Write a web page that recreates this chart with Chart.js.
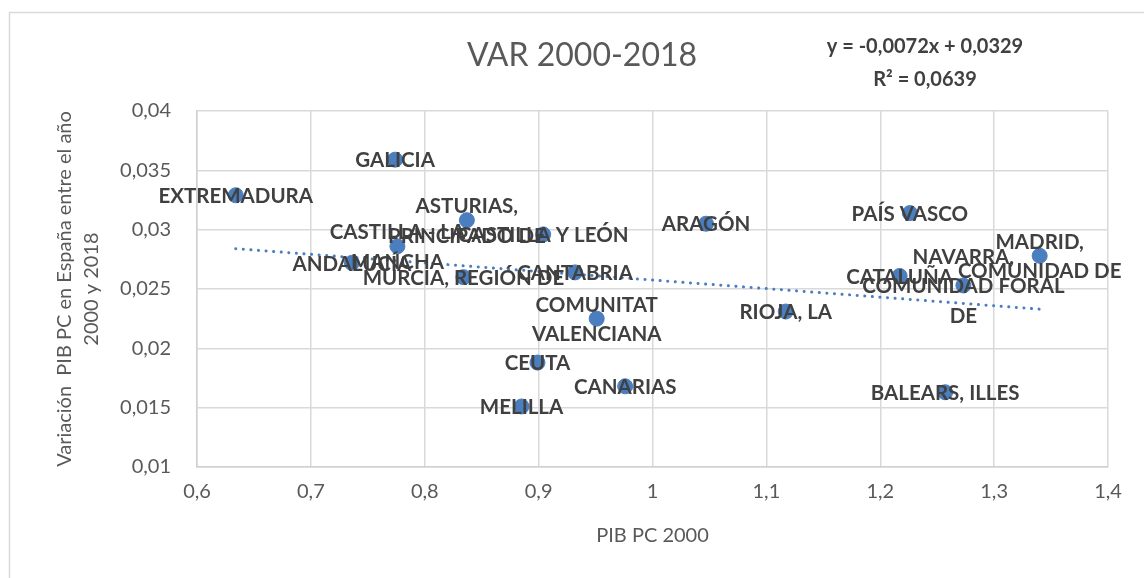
<!DOCTYPE html>
<html>
<head>
<meta charset="utf-8">
<script src="https://cdn.jsdelivr.net/npm/chart.js@4"></script>
<style>
  html, body { margin: 0; padding: 0; background: #fff; }
  #wrap { width: 1144px; height: 578px; position: relative; }
</style>
</head>
<body>
<div id="wrap"><canvas id="var-chart"></canvas></div>
<script>
// regiones (etiqueta tal como se ve en el gráfico, con saltos de línea)
const regions = [
    ['EXTREMADURA'],
    ['GALICIA'],
    ['ASTURIAS,', 'PRINCIPADO DE'],
    ['CASTILLA Y LEÓN'],
    ['CASTILLA - LA', 'MANCHA'],
    ['ANDALUCÍA'],
    ['MURCIA, REGIÓN DE'],
    ['CANTABRIA'],
    ['COMUNITAT', 'VALENCIANA'],
    ['CEUTA'],
    ['CANARIAS'],
    ['MELILLA'],
    ['ARAGÓN'],
    ['RIOJA, LA'],
    ['PAÍS VASCO'],
    ['CATALUÑA'],
    ['NAVARRA,', 'COMUNIDAD FORAL', 'DE'],
    ['MADRID,', 'COMUNIDAD DE'],
    ['BALEARS, ILLES'],
];
const pibPc2000 = [0.634, 0.774, 0.837, 0.904, 0.776, 0.736, 0.834, 0.932, 0.951, 0.899, 0.976, 0.885, 1.047, 1.117, 1.226, 1.217, 1.273, 1.340, 1.257];
const varPib = [0.0329, 0.0359, 0.0308, 0.0296, 0.0286, 0.0272, 0.0260, 0.0264, 0.0225, 0.0188, 0.0168, 0.0151, 0.0305, 0.0231, 0.0314, 0.0261, 0.0253, 0.0278, 0.0163];

// línea de tendencia (extremos)
const trendX = [0.634, 1.340];
const trendY = [0.0284, 0.0233];

const xTickLabels = ['0,6', '0,7', '0,8', '0,9', '1', '1,1', '1,2', '1,3', '1,4'];
const yTickLabels = ['0,01', '0,015', '0,02', '0,025', '0,03', '0,035', '0,04'];

const chartTitle = 'VAR 2000-2018';
const equation = ['y = -0,0072x + 0,0329', 'R² = 0,0639'];
const xTitle = 'PIB PC 2000';
const yTitle = ['Variación  PIB PC en España entre el año', '2000 y 2018'];

const TEXT_GRAY = '#595959';
const LABEL_GRAY = '#404040';
const BLUE = '#4a7ebf';
const FONT = 'Lato, "Open Sans", sans-serif';


// título, ecuación, borde exterior y etiquetas de datos
const extrasPlugin = {
    id: 'extras',
    beforeDraw(chart) {
        const ctx = chart.ctx;
        ctx.save();
        ctx.fillStyle = '#fff';
        ctx.fillRect(0, 0, chart.width, chart.height);
        ctx.strokeStyle = '#d9d9d9';
        ctx.lineWidth = 1.5;
        ctx.strokeRect(9.5, 12.5, chart.width + 20, chart.height + 20);
        ctx.restore();
    },
    afterDatasetsDraw(chart) {
        const ctx = chart.ctx;
        ctx.save();
        ctx.textAlign = 'center';
        ctx.textBaseline = 'middle';

        ctx.fillStyle = TEXT_GRAY;
        ctx.font = '32px ' + FONT;
        ctx.fillText(chartTitle, 582, 56);

        ctx.fillStyle = LABEL_GRAY;
        ctx.font = 'bold 20px ' + FONT;
        ctx.fillText(equation[0], 925, 47);
        ctx.fillText(equation[1], 925, 80);

        const meta = chart.getDatasetMeta(0);
        ctx.font = 'bold 20.5px ' + FONT;
        const lineH = 29.5;
        meta.data.forEach((pt, i) => {
            const lines = regions[i];
            const y0 = pt.y - (lines.length - 1) * lineH / 2;
            lines.forEach((txt, j) => ctx.fillText(txt, pt.x, y0 + j * lineH + 1));
        });
        ctx.restore();
    }
};


function initVarChart() {
    const ctx = document.getElementById('var-chart').getContext('2d');

    new Chart(ctx, {
        type: 'scatter',
        data: {
            datasets: [{
                label: 'VAR 2000-2018',
                data: pibPc2000.map((x, i) => ({x: x, y: varPib[i]})),
                backgroundColor: BLUE,
                borderColor: BLUE,
                pointRadius: 7.5,
                pointHoverRadius: 7.5,
                order: 1,
            }, {
                type: 'line',
                label: 'tendencia',
                data: trendX.map((x, i) => ({x: x, y: trendY[i]})),
                borderColor: BLUE,
                borderWidth: 3,
                borderDash: [0.1, 7.5],
                borderCapStyle: 'round',
                pointRadius: 0,
                fill: false,
                order: 0,
            }]
        },
        options: {
            responsive: true,
            maintainAspectRatio: false,
            animation: false,
            events: [],
            layout: {padding: {top: 111, right: 36, left: 0, bottom: 30}},
            plugins: {
                legend: {display: false},
                tooltip: {enabled: false},
                title: {display: false},
            },
            scales: {
                x: {
                    type: 'linear',
                    min: 0.6,
                    max: 1.4,
                    ticks: {
                        stepSize: 0.1,
                        padding: 13,
                        color: TEXT_GRAY,
                        font: {family: FONT, size: 20},
                        callback: (v, i) => xTickLabels[i],
                    },
                    grid: {color: '#d9d9d9', lineWidth: 1.5, drawTicks: false},
                    border: {color: '#d0d0d0', width: 1.5},
                    title: {
                        display: true,
                        text: xTitle,
                        color: TEXT_GRAY,
                        font: {family: FONT, size: 20, lineHeight: 1.2},
                        padding: {top: 14, bottom: 0},
                    },
                    afterFit: (scale) => { scale.height = 81; },
                },
                y: {
                    type: 'linear',
                    min: 0.01,
                    max: 0.04,
                    ticks: {
                        stepSize: 0.005,
                        padding: 26,
                        color: TEXT_GRAY,
                        font: {family: FONT, size: 20},
                        callback: (v, i) => yTickLabels[i],
                    },
                    grid: {color: '#d9d9d9', lineWidth: 1.5, drawTicks: false},
                    border: {color: '#d0d0d0', width: 1.5},
                    title: {
                        display: true,
                        text: yTitle,
                        color: TEXT_GRAY,
                        font: {family: FONT, size: 20, lineHeight: 1.35},
                        padding: {top: 51, bottom: 0},
                    },
                    afterFit: (scale) => { scale.width = 197; },
                }
            }
        },
        plugins: [extrasPlugin]
    });
}

window.onload = initVarChart;
</script>
</body>
</html>
